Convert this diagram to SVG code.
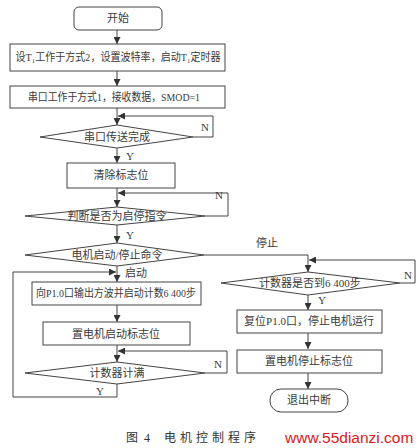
<svg xmlns="http://www.w3.org/2000/svg" width="420" height="448" viewBox="0 0 420 448">
<defs>
<marker id="ah" viewBox="0 0 10 10" refX="10" refY="5" markerWidth="7" markerHeight="7" markerUnits="userSpaceOnUse" orient="auto">
<path d="M0,0 L10,5 L0,10 z" fill="#333"/>
</marker>
<style>
.box{fill:#fff;stroke:#444;stroke-width:1}
.t{font-family:"Liberation Serif","Noto Sans CJK SC",serif;font-size:11px;fill:#3a3a3a;text-anchor:middle}
.a{fill:none;stroke:#444;stroke-width:1;marker-end:url(#ah)}
.lb{font-family:"Liberation Serif","Noto Sans CJK SC",serif;font-size:11px;fill:#3a3a3a}
.cap{font-family:"Liberation Serif","Noto Sans CJK SC",serif;font-size:12px;fill:#333}
</style>
</defs>
<rect width="420" height="448" fill="#fff"/>
<g id="connectors">
<path class="a" d="M117,30 V44"/>
<path class="a" d="M117,71 V86"/>
<path class="a" d="M117,108 V125"/>
<path class="a" d="M193,137 H213 V116 H118"/>
<path class="a" d="M117,148 V163"/>
<path class="a" d="M117,188 V207"/>
<path class="a" d="M205,216 H228 V193 H118"/>
<path class="a" d="M117,225 V243"/>
<path class="a" d="M204,255 H308 V272"/>
<path class="a" d="M400,283 H415 V260 H309"/>
<path class="a" d="M308,295 V310"/>
<path class="a" d="M308,333 V349"/>
<path class="a" d="M308,373 V389"/>
<path class="a" d="M117,266 V282"/>
<path class="a" d="M117,384 V397 H13 V272 H116"/>
<path class="a" d="M117,305 V322"/>
<path class="a" d="M117,345 V362"/>
<path class="a" d="M205,373 H227 V351 H118"/>
<text class="lb" x="201" y="131">N</text>
<text class="lb" x="215" y="199">N</text>
<text class="lb" x="404" y="279">N</text>
<text class="lb" x="214" y="368">N</text>
<text class="lb" x="126" y="160">Y</text>
<text class="lb" x="126" y="239">Y</text>
<text class="lb" x="318" y="304">Y</text>
<text class="lb" x="96" y="395">Y</text>
<text class="lb" x="256" y="247">停止</text>
<text class="lb" x="125" y="277">启动</text>
</g>
<g id="start"><rect class="box" x="74" y="7" width="88" height="23" rx="5"/><text class="t" x="118" y="22">开始</text></g>
<g id="init-t1"><rect class="box" x="10" y="44" width="215" height="27"/><text class="t" x="118" y="61" textLength="205" lengthAdjust="spacingAndGlyphs">设T₁工作于方式2，设置波特率，启动T₁定时器</text></g>
<g id="serial-init"><rect class="box" x="10" y="86" width="215" height="22"/><text class="t" x="114" y="101" textLength="172" lengthAdjust="spacingAndGlyphs">串口工作于方式1，接收数据，SMOD=1</text></g>
<g id="serial-done"><polygon class="box" points="117,125 193,137 117,148 40,137"/><text class="t" x="117" y="141">串口传送完成</text></g>
<g id="clear-flag"><rect class="box" x="67" y="163" width="108" height="25"/><text class="t" x="121" y="179">清除标志位</text></g>
<g id="is-cmd"><polygon class="box" points="117,207 205,216 117,225 25,216"/><text class="t" x="117" y="220">判断是否为启停指令</text></g>
<g id="motor-cmd"><polygon class="box" points="117,243 204,255 117,266 25,255"/><text class="t" x="117" y="259">电机启动/停止命令</text></g>
<g id="output-wave"><rect class="box" x="32" y="282" width="169" height="23"/><text class="t" x="116" y="297" textLength="160" lengthAdjust="spacingAndGlyphs">向P1.0口输出方波并启动计数6 400步</text></g>
<g id="set-start-flag"><rect class="box" x="43" y="322" width="147" height="23"/><text class="t" x="116" y="338">置电机启动标志位</text></g>
<g id="count-full"><polygon class="box" points="117,362 205,373 117,384 25,373"/><text class="t" x="117" y="377">计数器计满</text></g>
<g id="count-6400"><polygon class="box" points="308,272 400,283 308,295 221,283"/><text class="t" x="310" y="287">计数器是否到6 400步</text></g>
<g id="reset-p10"><rect class="box" x="237" y="310" width="145" height="23"/><text class="t" x="309" y="325">复位P1.0口，停止电机运行</text></g>
<g id="set-stop-flag"><rect class="box" x="237" y="350" width="145" height="23"/><text class="t" x="309" y="365">置电机停止标志位</text></g>
<g id="exit"><rect class="box" x="270" y="389" width="78" height="23" rx="11"/><text class="t" x="309" y="404">退出中断</text></g>
<text class="cap" x="126" y="442">图</text>
<text class="cap" x="144" y="442">4</text>
<text class="cap" x="164" y="442" letter-spacing="4">电机控制程序</text>
<text x="285" y="443" font-family="Liberation Sans,Arial,sans-serif" font-size="15.5" fill="#e0161b">www.55dianzi.com</text>
</svg>
